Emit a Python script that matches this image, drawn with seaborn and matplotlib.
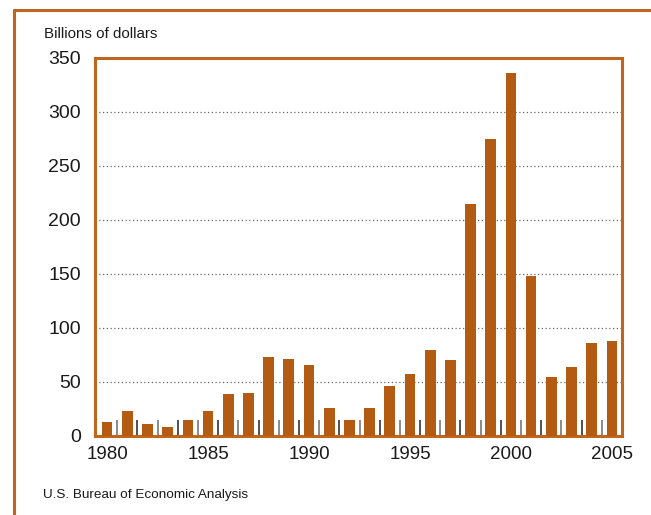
import matplotlib
matplotlib.use("Agg")
import matplotlib.pyplot as plt
import seaborn as sns
import pandas as pd
from matplotlib.lines import Line2D

years = list(range(1980, 2006))
values = [13, 23, 11, 8, 15, 23, 39, 40, 73, 71, 66, 26, 15, 26, 46, 57,
          80, 70, 215, 275, 336, 148, 55, 64, 86, 88]
ytick_vals = [0, 50, 100, 150, 200, 250, 300, 350]
xtick_labels = ["1980", "1985", "1990", "1995", "2000", "2005"]

bar_color = "#B35B13"
frame_color = "#C0651E"

sns.set_theme(style="white")
plt.rcParams['font.family'] = ['Liberation Sans', 'DejaVu Sans']

df = pd.DataFrame({"year": [str(y) for y in years], "value": values})

fig = plt.figure(figsize=(6.51, 5.15), dpi=100)
ax = fig.add_axes([95/651, 1-436/515, (622-95)/651, (436-58)/515])

sns.barplot(data=df, x="year", y="value", color=bar_color, saturation=1,
            width=0.53, linewidth=0, ax=ax, zorder=3)

ax.set_xlim(-0.6, len(years) - 0.5)
ax.set_ylim(0, 350)
ax.set_yticks(ytick_vals)
ax.set_yticklabels([str(v) for v in ytick_vals], fontsize=14, color="#1a1a1a")
xt = [years.index(int(t)) for t in xtick_labels]
ax.set_xticks(xt)
ax.set_xticklabels(xtick_labels, fontsize=13.5, color="#1a1a1a")
ax.tick_params(axis="y", length=0, pad=10)
ax.tick_params(axis="x", length=0, pad=7)
ax.set_xlabel("")
ax.set_ylabel("")

for v in ytick_vals[1:-1]:
    ax.axhline(v, color="#666666", lw=0.9, ls=(0, (1, 2)), zorder=1)

# separators between bars
for i in range(len(years) - 1):
    ax.vlines(i + 0.5, 0, 14.5, color="#333333" if i % 2 else "#777777",
              lw=1.2, zorder=2)

for s in ax.spines.values():
    s.set_color(frame_color)
    s.set_linewidth(2.2)
    s.set_visible(True)

fig.text(44/651, 1-34/515, "Billions of dollars", fontsize=10.9,
         color="#1a1a1a", va="center", ha="left")
fig.text(43/651, 1-495/515, "U.S. Bureau of Economic Analysis", fontsize=9.7,
         color="#1a1a1a", va="center", ha="left")

# outer frame
fig.add_artist(Line2D([13.5/651, 1.0], [1-10/515, 1-10/515],
                      transform=fig.transFigure, color=frame_color, lw=2.2))
fig.add_artist(Line2D([13.5/651, 13.5/651], [0, 1-10/515],
                      transform=fig.transFigure, color=frame_color, lw=2.2))

fig.savefig("out.png", dpi=100)
